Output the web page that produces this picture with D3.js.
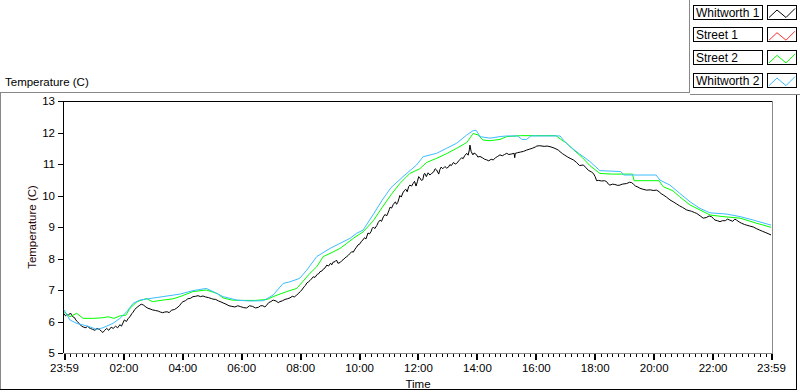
<!DOCTYPE html>
<html>
<head>
<meta charset="utf-8">
<script src="https://cdn.jsdelivr.net/npm/d3@7"></script>
<style>
  body { margin: 0; background: #fff; }
  text { font-family: "Liberation Sans", Arial, sans-serif; }
</style>
</head>
<body>
<script>
// Temperatures over one day, [hours since 23:59, degrees C]

const seriesNames = ["Whitworth 1", "Street 1", "Street 2", "Whitworth 2"];
const seriesColors = ["#000000", "#ff3030", "#00ff00", "#3cbcff"];

const whitworth1 = [
  [0.0, 6.25], [0.05, 6.18], [0.1, 6.22], [0.15, 6.2], [0.22, 6.27], [0.26, 6.2], [0.3, 6.15],
  [0.36, 6.12], [0.4, 6.05], [0.45, 6.0], [0.5, 5.95], [0.55, 5.9], [0.6, 5.85], [0.67, 5.82],
  [0.75, 5.8], [0.8, 5.86], [0.85, 5.8], [0.9, 5.78], [0.97, 5.75], [1.05, 5.72], [1.12, 5.78],
  [1.2, 5.75], [1.26, 5.7], [1.32, 5.65], [1.38, 5.72], [1.45, 5.78], [1.52, 5.72], [1.6, 5.82],
  [1.67, 5.78], [1.75, 5.85], [1.82, 5.8], [1.9, 5.9], [1.95, 5.85], [2.0, 5.95], [2.05, 6.05],
  [2.12, 6.0], [2.18, 6.1], [2.24, 6.15], [2.3, 6.25], [2.35, 6.3], [2.4, 6.38], [2.48, 6.45],
  [2.55, 6.5], [2.62, 6.55], [2.7, 6.52], [2.78, 6.46], [2.85, 6.42], [2.92, 6.4], [3.0, 6.37],
  [3.1, 6.35], [3.2, 6.33], [3.27, 6.3], [3.35, 6.28], [3.42, 6.3], [3.5, 6.31], [3.57, 6.28],
  [3.65, 6.36], [3.75, 6.38], [3.83, 6.43], [3.92, 6.5], [3.98, 6.58], [4.04, 6.63], [4.12, 6.66],
  [4.2, 6.72], [4.3, 6.74], [4.38, 6.79], [4.47, 6.8], [4.55, 6.82], [4.63, 6.79], [4.72, 6.81],
  [4.8, 6.78], [4.9, 6.76], [5.0, 6.73], [5.06, 6.71], [5.15, 6.7], [5.25, 6.65], [5.33, 6.62],
  [5.4, 6.59], [5.5, 6.55], [5.6, 6.5], [5.7, 6.48], [5.8, 6.46], [5.9, 6.5], [6.0, 6.47],
  [6.1, 6.44], [6.2, 6.43], [6.3, 6.5], [6.4, 6.48], [6.5, 6.43], [6.6, 6.45], [6.67, 6.5],
  [6.75, 6.5], [6.82, 6.46], [6.88, 6.52], [6.95, 6.6], [7.02, 6.63], [7.1, 6.68], [7.2, 6.65],
  [7.27, 6.6], [7.33, 6.63], [7.42, 6.66], [7.5, 6.7], [7.58, 6.72], [7.67, 6.75], [7.75, 6.8],
  [7.82, 6.78], [7.9, 6.84], [7.97, 6.9], [8.02, 6.95], [8.07, 7.0], [8.15, 7.1], [8.2, 7.15],
  [8.24, 7.22], [8.3, 7.26], [8.35, 7.3], [8.4, 7.35], [8.46, 7.42], [8.52, 7.4], [8.6, 7.5],
  [8.65, 7.52], [8.69, 7.58], [8.75, 7.6], [8.8, 7.66], [8.86, 7.7], [8.92, 7.79], [8.98, 7.76],
  [9.05, 7.85], [9.09, 7.8], [9.13, 7.88], [9.2, 7.9], [9.25, 7.95], [9.3, 7.85], [9.37, 7.87],
  [9.43, 7.93], [9.5, 7.98], [9.54, 8.02], [9.6, 8.06], [9.65, 8.1], [9.7, 8.15], [9.77, 8.22],
  [9.82, 8.2], [9.88, 8.3], [9.93, 8.36], [9.98, 8.43], [10.05, 8.47], [10.1, 8.55], [10.15, 8.59],
  [10.2, 8.66], [10.25, 8.62], [10.32, 8.81], [10.37, 8.78], [10.42, 8.85], [10.46, 8.95],
  [10.5, 9.0], [10.55, 8.95], [10.62, 9.05], [10.67, 9.15], [10.73, 9.22], [10.78, 9.18],
  [10.84, 9.32], [10.9, 9.4], [10.95, 9.35], [11.0, 9.45], [11.04, 9.55], [11.07, 9.63],
  [11.12, 9.6], [11.18, 9.72], [11.25, 9.8], [11.29, 9.72], [11.33, 9.78], [11.37, 9.9],
  [11.4, 10.0], [11.45, 9.95], [11.5, 10.08], [11.55, 10.15], [11.6, 10.2], [11.65, 10.12],
  [11.7, 10.28], [11.74, 10.33], [11.8, 10.3], [11.85, 10.38], [11.9, 10.45], [11.95, 10.3],
  [12.0, 10.45], [12.04, 10.6], [12.08, 10.56], [12.13, 10.48], [12.18, 10.5], [12.22, 10.68],
  [12.25, 10.7], [12.3, 10.6], [12.36, 10.72], [12.42, 10.65], [12.48, 10.7], [12.55, 10.75],
  [12.6, 10.85], [12.65, 10.81], [12.72, 10.68], [12.76, 10.82], [12.8, 10.9], [12.86, 10.85],
  [12.93, 10.92], [12.99, 10.87], [13.05, 10.9], [13.1, 10.98], [13.15, 10.95], [13.22, 11.05],
  [13.28, 11.0], [13.33, 11.02], [13.4, 11.1], [13.45, 11.15], [13.5, 11.2], [13.55, 11.17],
  [13.6, 11.26], [13.67, 11.34], [13.72, 11.28], [13.76, 11.45], [13.78, 11.6], [13.82, 11.4],
  [13.88, 11.29], [13.92, 11.35], [14.0, 11.3], [14.05, 11.22], [14.12, 11.24], [14.2, 11.2],
  [14.28, 11.15], [14.35, 11.13], [14.42, 11.1], [14.5, 11.15], [14.57, 11.13], [14.65, 11.2],
  [14.72, 11.24], [14.8, 11.29], [14.88, 11.26], [14.95, 11.3], [15.03, 11.34], [15.1, 11.3],
  [15.2, 11.32], [15.28, 11.34], [15.3, 11.2], [15.32, 11.34], [15.4, 11.36], [15.5, 11.38],
  [15.6, 11.4], [15.7, 11.44], [15.8, 11.47], [15.9, 11.5], [16.0, 11.54], [16.05, 11.57],
  [16.15, 11.58], [16.3, 11.56], [16.4, 11.57], [16.5, 11.55], [16.6, 11.52], [16.7, 11.48],
  [16.78, 11.44], [16.84, 11.39], [16.92, 11.33], [17.0, 11.28], [17.1, 11.22], [17.18, 11.18],
  [17.29, 11.13], [17.4, 11.05], [17.5, 10.95], [17.63, 10.97], [17.72, 10.88], [17.8, 10.8],
  [17.9, 10.75], [17.97, 10.7], [18.03, 10.6], [18.08, 10.47], [18.15, 10.48], [18.25, 10.46],
  [18.35, 10.47], [18.42, 10.44], [18.48, 10.36], [18.53, 10.33], [18.62, 10.36], [18.7, 10.35],
  [18.8, 10.32], [18.87, 10.33], [18.95, 10.36], [19.1, 10.38], [19.2, 10.42], [19.27, 10.41],
  [19.33, 10.36], [19.4, 10.3], [19.48, 10.27], [19.55, 10.23], [19.65, 10.2], [19.78, 10.17],
  [19.9, 10.18], [20.0, 10.16], [20.12, 10.17], [20.2, 10.12], [20.27, 10.06], [20.34, 10.02],
  [20.45, 9.95], [20.57, 9.86], [20.68, 9.8], [20.8, 9.73], [20.9, 9.67], [21.0, 9.62],
  [21.14, 9.54], [21.22, 9.52], [21.3, 9.5], [21.4, 9.46], [21.48, 9.43], [21.6, 9.35],
  [21.7, 9.28], [21.8, 9.3], [21.9, 9.35], [21.98, 9.33], [22.05, 9.26], [22.1, 9.22],
  [22.18, 9.2], [22.27, 9.17], [22.35, 9.2], [22.45, 9.2], [22.52, 9.25], [22.6, 9.22],
  [22.7, 9.18], [22.77, 9.25], [22.83, 9.22], [22.92, 9.16], [23.0, 9.12], [23.1, 9.08],
  [23.17, 9.06], [23.28, 9.03], [23.4, 9.0], [23.5, 8.95], [23.62, 8.9], [23.72, 8.86],
  [23.8, 8.83], [23.9, 8.79], [24.0, 8.75]
];

// no trace of Street 1 is visible in the plot
const street1 = [];

const street2 = [
  [0.0, 6.31], [0.2, 6.15], [0.43, 6.26], [0.65, 6.1], [1.0, 6.1], [1.32, 6.12], [1.5, 6.15],
  [1.7, 6.1], [1.9, 6.18], [2.1, 6.2], [2.24, 6.42], [2.48, 6.63], [2.8, 6.73], [3.0, 6.63],
  [3.36, 6.68], [3.7, 6.72], [3.94, 6.79], [4.38, 6.95], [4.83, 7.0], [5.2, 6.89], [5.4, 6.75],
  [5.7, 6.68], [6.0, 6.67], [6.5, 6.67], [6.9, 6.7], [7.1, 6.79], [7.56, 6.95], [7.9, 7.05],
  [8.1, 7.26], [8.35, 7.53], [8.58, 7.74], [8.8, 8.06], [9.03, 8.16], [9.37, 8.32], [9.6, 8.48],
  [9.82, 8.64], [10.16, 8.85], [10.5, 9.2], [10.8, 9.62], [11.1, 10.02], [11.4, 10.38],
  [11.74, 10.7], [12.08, 10.85], [12.31, 11.05], [12.65, 11.18], [12.99, 11.33], [13.33, 11.5],
  [13.67, 11.68], [13.89, 11.97], [14.06, 11.92], [14.22, 11.76], [14.46, 11.74], [14.8, 11.78],
  [15.03, 11.87], [15.5, 11.9], [16.0, 11.9], [16.7, 11.9], [16.84, 11.8], [17.06, 11.66],
  [17.3, 11.45], [17.6, 11.2], [17.85, 10.95], [18.19, 10.7], [18.6, 10.68], [19.3, 10.68],
  [19.35, 10.47], [20.2, 10.47], [20.34, 10.28], [20.67, 10.15], [20.9, 9.96], [21.25, 9.7],
  [21.59, 9.54], [21.93, 9.38], [22.37, 9.33], [22.95, 9.28], [23.51, 9.12], [24.0, 8.99]
];

const whitworth2 = [
  [0.0, 6.37], [0.2, 6.05], [0.43, 5.94], [0.65, 5.89], [0.88, 5.83], [1.1, 5.75], [1.32, 5.8],
  [1.66, 5.94], [1.9, 6.1], [2.13, 6.31], [2.35, 6.58], [2.58, 6.68], [2.92, 6.73], [3.36, 6.79],
  [3.94, 6.87], [4.38, 6.98], [4.83, 7.05], [5.06, 6.95], [5.4, 6.79], [5.87, 6.68], [6.3, 6.65],
  [6.77, 6.66], [7.1, 6.84], [7.44, 7.21], [7.67, 7.26], [8.0, 7.37], [8.24, 7.63], [8.58, 8.06],
  [9.03, 8.32], [9.37, 8.48], [9.71, 8.64], [9.93, 8.8], [10.15, 8.9], [10.5, 9.4], [10.8, 9.85],
  [11.1, 10.25], [11.51, 10.6], [11.97, 10.97], [12.19, 11.23], [12.65, 11.34], [12.99, 11.5],
  [13.33, 11.66], [13.67, 11.92], [13.89, 12.06], [14.0, 12.06], [14.12, 11.87], [14.46, 11.82],
  [14.8, 11.87], [15.03, 11.89], [15.4, 11.89], [15.55, 11.78], [15.7, 11.78], [15.85, 11.89],
  [16.84, 11.89], [16.95, 11.76], [17.18, 11.55], [17.5, 11.32], [17.85, 11.08], [18.19, 10.79],
  [18.9, 10.76], [19.0, 10.65], [20.1, 10.65], [20.23, 10.49], [20.57, 10.33], [20.9, 10.07],
  [21.25, 9.8], [21.59, 9.59], [21.93, 9.45], [22.5, 9.41], [22.95, 9.33], [23.4, 9.22], [24.0, 9.06]
];

const seriesData = [whitworth1, street1, street2, whitworth2];
const yTicks = [5, 6, 7, 8, 9, 10, 11, 12, 13];

const width = 800, height = 392;
const plot = { left: 63.5, top: 101, right: 772, bottom: 353 };

const svg = d3.select("body").append("svg")
    .attr("width", width)
    .attr("height", height);

// panel frame
const frame = svg.append("g").attr("fill", "none").attr("shape-rendering", "crispEdges");
frame.append("path").attr("d", "M0.5,390 V92.5 H689.5 V0").attr("stroke", "#888");
frame.append("path").attr("d", "M689.5,94.5 H800").attr("stroke", "#888");
frame.append("path").attr("d", "M0,389.5 H796.5 V95").attr("stroke", "#000");

svg.append("text")
    .attr("x", 5).attr("y", 86)
    .attr("font-size", "11.5px")
    .text("Temperature (C)");

// scales
const start = new Date(2015, 0, 1, 23, 59);
const end = new Date(2015, 0, 2, 23, 59);
const toDate = h => new Date(start.getTime() + h * 3600e3);

const x = d3.scaleTime().domain([start, end]).range([64, 771]);
const y = d3.scaleLinear().domain([5, 13]).range([plot.bottom, plot.top]);

// axes
const majors = [start].concat(d3.timeHour.every(2).range(new Date(2015, 0, 2, 1), end), [end]);
const minors = d3.timeMinute.every(12).range(start, end)
    .filter(d => majors.every(m => Math.abs(x(d) - x(m)) > 3));

const xAxis = svg.append("g")
    .attr("transform", `translate(0,${plot.bottom + 0.5})`)
    .call(d3.axisBottom(x).tickValues(majors).tickSize(6).tickPadding(4)
      .tickFormat(d3.timeFormat("%H:%M")));
xAxis.select(".domain").remove();
xAxis.selectAll(".tick line").attr("stroke-width", 2);
xAxis.selectAll("text").attr("font-size", "11.5px").attr("font-family", "Liberation Sans, Arial, sans-serif");

const xMinor = svg.append("g")
    .attr("transform", `translate(0,${plot.bottom + 0.5})`)
    .call(d3.axisBottom(x).tickValues(minors).tickSize(3).tickFormat(""));
xMinor.select(".domain").remove();

const yAxis = svg.append("g")
    .attr("transform", `translate(${plot.left - 0.5},0)`)
    .call(d3.axisLeft(y).tickValues(yTicks).tickSize(5).tickPadding(3).tickFormat(d3.format("d")));
yAxis.select(".domain").remove();
yAxis.selectAll("text").attr("font-size", "11.5px").attr("font-family", "Liberation Sans, Arial, sans-serif");
svg.selectAll(".tick line").attr("shape-rendering", "crispEdges");

svg.append("text")
    .attr("transform", `translate(36,${(plot.top + plot.bottom) / 2}) rotate(-90)`)
    .attr("text-anchor", "middle")
    .attr("font-size", "11.5px")
    .attr("fill", "#2a0a0a")
    .text("Temperature (C)");

svg.append("text")
    .attr("x", 418).attr("y", 388)
    .attr("text-anchor", "middle")
    .attr("font-size", "11.5px")
    .text("Time");

// plot border
const border = svg.append("g").attr("fill", "none").attr("shape-rendering", "crispEdges");
border.append("path").attr("d", `M${plot.left},${plot.bottom} V${plot.top + 0.5} H${plot.right}`).attr("stroke", "#000");
border.append("path").attr("d", `M${plot.right + 0.5},${plot.top} V${plot.bottom + 0.5} H${plot.left}`).attr("stroke", "#888");

// traces
const line = d3.line()
    .x(d => x(toDate(d[0])))
    .y(d => y(d[1]));

svg.append("g").selectAll("path")
    .data(seriesData)
    .join("path")
      .attr("d", d => d.length ? line(d) : null)
      .attr("fill", "none")
      .attr("stroke", (d, i) => seriesColors[i])
      .attr("stroke-width", 1)
      .attr("stroke-linejoin", "round");

// legend
const legend = svg.append("g").selectAll("g")
    .data(seriesNames)
    .join("g")
      .attr("transform", (d, i) => `translate(0,${4.5 + i * 22.7})`);

legend.append("rect")
    .attr("x", 693.5).attr("y", 0.5).attr("width", 69).attr("height", 14)
    .attr("fill", "#fff").attr("stroke", "#000").attr("shape-rendering", "crispEdges");

legend.append("text")
    .attr("x", 696).attr("y", 12)
    .attr("font-size", "12px")
    .text(d => d);

legend.append("rect")
    .attr("x", 767.5).attr("y", 0.5).attr("width", 29).attr("height", 14)
    .attr("fill", "#fff").attr("stroke", "#000").attr("shape-rendering", "crispEdges");

legend.append("path")
    .attr("d", "M769,13 L777,5.5 L786,13 L795,4")
    .attr("fill", "none")
    .attr("stroke", (d, i) => seriesColors[i]);
</script>
</body>
</html>
